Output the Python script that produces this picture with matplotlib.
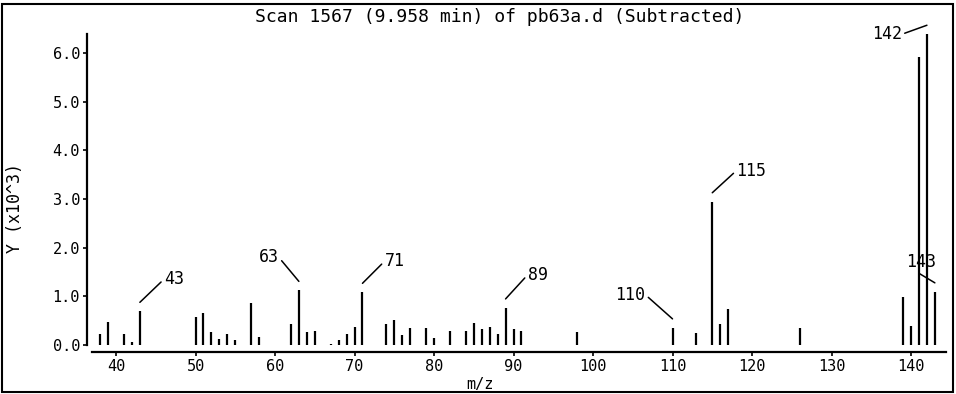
# Mass spectrum, scan 1567 of pb63a.d, saved as out.png

import matplotlib
matplotlib.use('Agg')
import matplotlib.pyplot as plt
from matplotlib.ticker import FormatStrFormatter
from matplotlib.patches import Rectangle

plt.rcParams['font.family'] = ['DejaVu Sans Mono']

# m/z and abundance (x10^3)
mz = [38, 39, 41, 42, 43, 50, 51, 52, 53, 54, 55, 57, 58, 62, 63, 64, 65,
      67, 68, 69, 70, 71, 74, 75, 76, 77, 79, 80, 82, 84, 85, 86, 87, 88,
      89, 90, 91, 98, 110, 113, 115, 116, 117, 126, 139, 140, 141, 142, 143]
abundance = [0.23, 0.47, 0.23, 0.07, 0.70, 0.58, 0.66, 0.27, 0.12, 0.23, 0.10,
             0.86, 0.17, 0.43, 1.13, 0.28, 0.30, 0.03, 0.10, 0.22, 0.38, 1.09,
             0.43, 0.52, 0.20, 0.36, 0.36, 0.14, 0.29, 0.29, 0.45, 0.33, 0.38,
             0.23, 0.77, 0.34, 0.30, 0.28, 0.36, 0.24, 2.95, 0.43, 0.74, 0.35,
             0.98, 0.40, 5.92, 6.39, 1.10]

labelled = [43, 63, 71, 89, 110, 115, 142, 143]
y_ticks = [0, 1, 2, 3, 4, 5, 6]
x_ticks = [40, 50, 60, 70, 80, 90, 100, 110, 120, 130, 140]

fig = plt.figure(figsize=(9.56, 3.94), dpi=100)
ax = fig.add_axes([87 / 956, 42 / 394, 859 / 956, 318 / 394])

ax.vlines(mz, 0, abundance, color='black', lw=1.6)

ax.set_xlim(36.35, 144.4)
ax.set_ylim(-0.14, 6.39)
ax.set_xticks(x_ticks)
ax.set_yticks(y_ticks)
ax.yaxis.set_major_formatter(FormatStrFormatter('%.1f'))
ax.tick_params(direction='out', length=3, width=1.2, labelsize=11, pad=2)

for s in ['top', 'right']:
    ax.spines[s].set_visible(False)
ax.spines['left'].set_bounds(0, 6.39)
ax.spines['bottom'].set_bounds(37, 144.4)
ax.spines['left'].set_linewidth(1.6)
ax.spines['bottom'].set_linewidth(1.6)

# peak labels: offset of text from the line start (pixels), alignment, line anchor
offsets = {
    43: (24, 23, 'left', (0, 0.5)),
    63: (-20, 24, 'right', (1, 0.5)),
    71: (22, 22, 'left', (0, 0.5)),
    89: (22, 24, 'left', (0, 0.5)),
    110: (-27, 24, 'right', (1, 0.5)),
    115: (24, 22, 'left', (0, 0.5)),
    142: (-25, -9, 'right', (1, 0.5)),
    143: (-14, 21, 'center', (0.3, 0)),
}
for m in labelled:
    h = abundance[mz.index(m)]
    dx, dy, ha, rp = offsets[m]
    ax.annotate(str(m), xy=(m, h + 0.18), xytext=(dx, dy),
                textcoords='offset pixels', ha=ha, va='center', fontsize=12,
                arrowprops=dict(arrowstyle='-', lw=1.1, color='black',
                                shrinkA=0, shrinkB=0, relpos=rp),
                annotation_clip=False)

fig.text(500 / 956, 1 - 17 / 394, 'Scan 1567 (9.958 min) of pb63a.d (Subtracted)',
         ha='center', va='center', fontsize=13)
fig.text(15 / 956, 1 - 208 / 394, 'Y (x10^3)', rotation=90,
         ha='center', va='center', fontsize=12)
fig.text(480 / 956, 1 - 385 / 394, 'm/z', ha='center', va='center', fontsize=11)

# outer frame
fig.patches.append(Rectangle((2 / 956, 2 / 394), 951 / 956, 388 / 394,
                             transform=fig.transFigure, fill=False,
                             edgecolor='black', lw=1.5))

fig.savefig('out.png', dpi=100)
plt.close('all')
